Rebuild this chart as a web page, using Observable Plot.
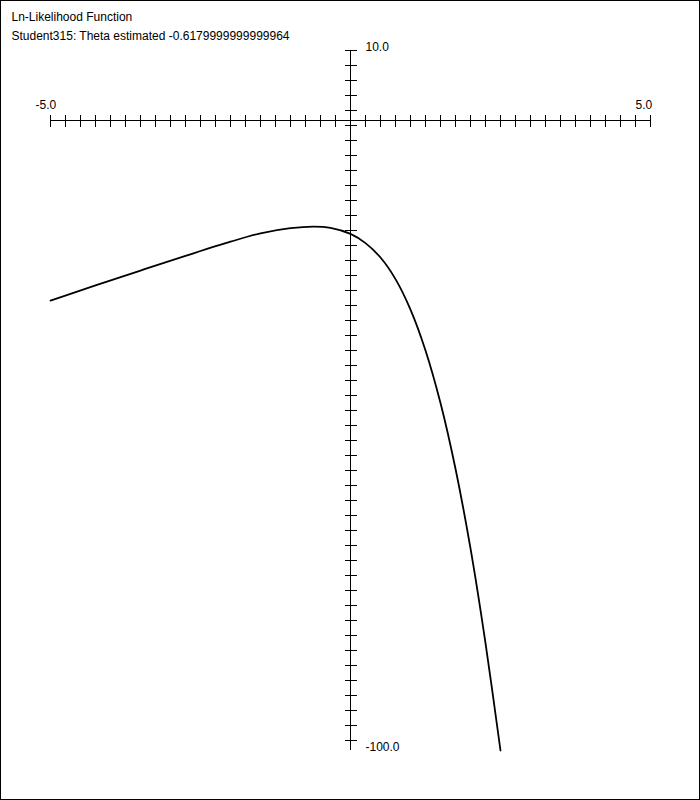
<!DOCTYPE html>
<html><head><meta charset="utf-8">
<script src="https://cdn.jsdelivr.net/npm/d3@7"></script>
<script src="https://cdn.jsdelivr.net/npm/@observablehq/plot@0.6"></script>
<style>
body{margin:0;background:#fff}
#wrap{position:relative;width:700px;height:800px;}
#border{position:absolute;left:0;top:0;width:700px;height:800px;box-sizing:border-box;border:1px solid #000;pointer-events:none}
</style></head><body><div id="wrap"><div id="border"></div></div>
<script>
const title = "Ln-Likelihood Function";
const subtitle = "Student315: Theta estimated -0.6179999999999964";
const theta = [-5, -4.25, -3.5, -2.75, -2.0, -1.5, -1.0, -0.617, -0.333, 0, 0.25, 0.5, 0.75, 1.0, 1.25, 1.5, 1.75, 2.0, 2.25, 2.5];
const lnL = [-29.29, -26.91, -24.58, -22.28, -20.05, -18.73, -17.92, -17.67, -17.86, -18.82, -20.27, -22.53, -25.92, -30.71, -37.13, -45.40, -55.73, -68.25, -83.14, -100.0];
const xLabelValues = [-5, 5];
const xLabelTexts = ["-5.0", "5.0"];
const yLabelValues = [10, -100];
const yLabelTexts = ["10.0", "-100.0"];
const xAxisAt = -1;
const xMin = -5, xMax = 5, yMin = -100, yMax = 10;
const xTickCount = 41, xTickStep = 0.25;
const yTickCount = 47, yTickStep = 110 / 700 * 15;

const xTicks = d3.range(xTickCount).map(i => xMin + i * xTickStep);
const yTicks = d3.range(yTickCount).map(i => yMax - i * yTickStep);
const curve = theta.map((t, i) => ({t, v: lnL[i]}));

const vTick = {draw(ctx) { ctx.moveTo(0, -6); ctx.lineTo(0, 6); }};
const hTick = {draw(ctx) { ctx.moveTo(-6, 0); ctx.lineTo(6, 0); }};
const font = "'Liberation Sans', Arial, sans-serif";

const chart = Plot.plot({
  width: 700, height: 800, margin: 0,
  style: {fontFamily: font, fontSize: "12px", background: "white", color: "black"},
  x: {axis: null, domain: [xMin, xMax], range: [50, 650]},
  y: {axis: null, domain: [yMin, yMax], range: [750, 50]},
  marks: [
    Plot.ruleY([xAxisAt], {x1: xMin, x2: xMax, stroke: "black", shapeRendering: "crispEdges"}),
    Plot.ruleX([0], {y1: yMax, y2: yMin, stroke: "black", shapeRendering: "crispEdges"}),
    Plot.dot(xTicks, {x: d => d, y: () => xAxisAt, symbol: vTick, r: 1, stroke: "black", fill: "none", shapeRendering: "crispEdges"}),
    Plot.dot(yTicks, {x: () => 0, y: d => d, symbol: hTick, r: 1, stroke: "black", fill: "none", shapeRendering: "crispEdges"}),
    Plot.text(xLabelValues, {x: d => d, y: () => xAxisAt, text: (d, i) => xLabelTexts[i], textAnchor: "start", lineAnchor: "bottom", dx: -15, dy: -12, fontSize: 12, fill: "black"}),
    Plot.text(yLabelValues, {x: () => 0, y: d => d, text: (d, i) => yLabelTexts[i], textAnchor: "start", lineAnchor: "bottom", dx: 15, dy: 0, fontSize: 12, fill: "black"}),
    Plot.line(curve, {x: "t", y: "v", curve: "catmull-rom", stroke: "black", strokeWidth: 1.8}),
    Plot.text([title], {text: d => d, frameAnchor: "top-left", textAnchor: "start", lineAnchor: "bottom", dx: 11, dy: 20, fontSize: 12, fill: "black"}),
    Plot.text([subtitle], {text: d => d, frameAnchor: "top-left", textAnchor: "start", lineAnchor: "bottom", dx: 11, dy: 39, fontSize: 12, fill: "black"})
  ]
});
document.getElementById("wrap").insertBefore(chart, document.getElementById("border"));
</script>
</body></html>
